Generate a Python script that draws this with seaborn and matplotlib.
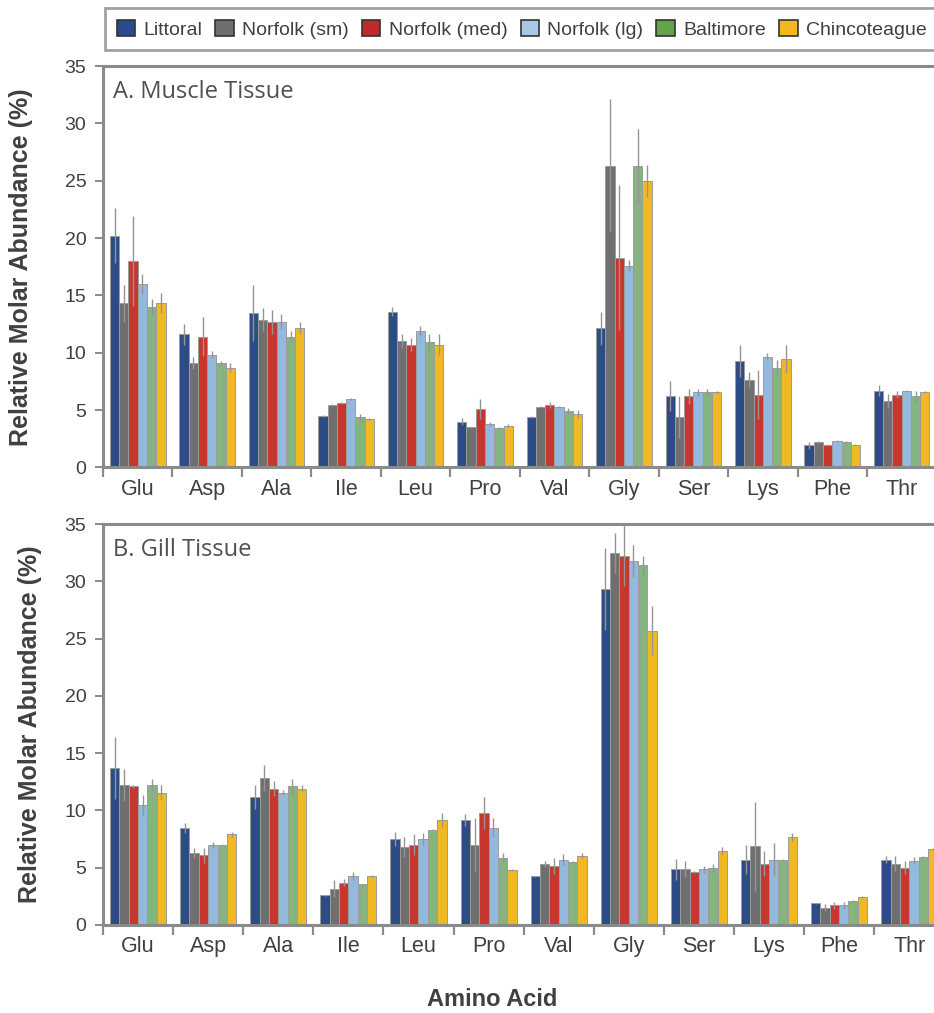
import numpy as np
import pandas as pd
import matplotlib
matplotlib.use("Agg")
import matplotlib.pyplot as plt
from matplotlib.patches import Patch
from matplotlib.ticker import FixedLocator
import seaborn as sns

amino_acids = ["Glu", "Asp", "Ala", "Ile", "Leu", "Pro", "Val", "Gly", "Ser", "Lys", "Phe", "Thr"]
sites = ["Littoral", "Norfolk (sm)", "Norfolk (med)", "Norfolk (lg)", "Baltimore", "Chincoteague"]

# Mean relative molar abundance (%), one row per site, columns follow amino_acids
muscle_mean = [
    [20.2, 11.6, 13.45, 4.5, 13.6, 4.0, 4.4, 12.15, 6.2, 9.3, 1.95, 6.7],
    [14.3, 9.1, 12.9, 5.45, 11.0, 3.5, 5.25, 26.3, 4.4, 7.65, 2.2, 5.8],
    [18.0, 11.4, 12.7, 5.6, 10.7, 5.1, 5.45, 18.3, 6.2, 6.35, 1.95, 6.35],
    [16.0, 9.85, 12.7, 6.0, 11.9, 3.8, 5.3, 17.6, 6.55, 9.65, 2.35, 6.7],
    [14.0, 9.1, 11.4, 4.4, 10.9, 3.45, 4.9, 26.3, 6.55, 8.7, 2.2, 6.2],
    [14.35, 8.7, 12.2, 4.2, 10.7, 3.65, 4.7, 25.0, 6.55, 9.45, 2.0, 6.6],
]
muscle_err = [
    [2.4, 0.9, 2.45, 0.1, 0.35, 0.3, 0.05, 1.45, 1.3, 1.4, 0.3, 0.5],
    [1.6, 0.5, 1.0, 0.1, 0.6, 0.05, 0.1, 5.8, 1.8, 0.65, 0.1, 0.65],
    [3.9, 1.7, 1.05, 0.1, 0.55, 0.9, 0.3, 6.35, 0.65, 2.15, 0.1, 0.3],
    [0.9, 0.3, 0.65, 0.1, 0.45, 0.2, 0.1, 0.5, 0.3, 0.3, 0.05, 0.05],
    [0.7, 0.2, 0.5, 0.3, 0.7, 0.05, 0.3, 3.2, 0.3, 0.65, 0.15, 0.5],
    [0.85, 0.4, 0.45, 0.1, 0.9, 0.1, 0.35, 1.4, 0.1, 1.25, 0.05, 0.05],
]
gill_mean = [
    [13.7, 8.45, 11.2, 2.6, 7.5, 9.15, 4.25, 29.35, 4.85, 5.7, 1.9, 5.7],
    [12.25, 6.3, 12.85, 3.15, 6.8, 7.0, 5.35, 32.45, 4.85, 6.85, 1.5, 5.35],
    [12.1, 6.1, 11.9, 3.7, 7.0, 9.75, 5.15, 32.25, 4.6, 5.35, 1.7, 5.0],
    [10.45, 7.0, 11.55, 4.25, 7.5, 8.5, 5.7, 31.75, 4.85, 5.7, 1.7, 5.6],
    [12.25, 7.0, 12.1, 3.55, 8.3, 5.85, 5.5, 31.4, 5.0, 5.7, 2.1, 5.95],
    [11.55, 7.9, 11.9, 4.25, 9.15, 4.8, 6.05, 25.7, 6.45, 7.7, 2.45, 6.65],
]
gill_err = [
    [2.7, 0.45, 1.05, 0.05, 0.65, 0.5, 0.05, 3.6, 0.9, 1.25, 0.05, 0.3],
    [1.4, 0.45, 1.15, 0.75, 0.85, 2.35, 0.25, 1.75, 0.7, 3.9, 0.3, 0.65],
    [0.1, 0.65, 0.65, 0.3, 0.9, 1.4, 0.7, 2.7, 0.1, 1.1, 0.3, 0.55],
    [0.9, 0.25, 0.2, 0.35, 0.5, 0.8, 0.5, 1.4, 0.3, 1.45, 0.3, 0.3],
    [0.5, 0.05, 0.65, 0.05, 0.05, 0.4, 0.05, 0.85, 0.35, 0.05, 0.05, 0.1],
    [0.65, 0.2, 0.3, 0.1, 0.6, 0.05, 0.2, 2.15, 0.35, 0.35, 0.1, 0.1],
]

bar_colors = ["#2D4B85", "#6F6F6F", "#C8372D", "#93B9DC", "#86B480", "#F1B823"]
legend_colors = ["#2A4A8C", "#6F6F6F", "#BF2A2C", "#A8C6E6", "#64A347", "#F4B71F"]

sns.set_theme(style="white")
plt.rcParams["font.family"] = ["Liberation Sans", "DejaVu Sans"]

SPINE = "#8A8A8A"
TEXT = "#404040"

fig = plt.figure(figsize=(9.34, 10.13), dpi=100)
ax_a = fig.add_axes([0.1103, 0.5385, 0.8923, 0.3963])
ax_b = fig.add_axes([0.1103, 0.0869, 0.9007, 0.3958])


def long_frame(mean):
    rows = []
    for s, site in enumerate(sites):
        for a, acid in enumerate(amino_acids):
            rows.append({"acid": acid, "site": site, "value": mean[s][a]})
    return pd.DataFrame(rows)


def draw_panel(ax, mean, err, title, ylabel_x):
    df = long_frame(mean)
    sns.barplot(data=df, x="acid", y="value", hue="site", order=amino_acids,
                hue_order=sites, palette=bar_colors, saturation=1, errorbar=None,
                width=0.8, edgecolor="#9C9C9C", linewidth=0.7, legend=False, ax=ax)
    bar_groups = [c for c in ax.containers]
    for s, container in enumerate(bar_groups):
        xs = [b.get_x() + b.get_width() / 2 for b in container.patches]
        ys = [b.get_height() for b in container.patches]
        ax.errorbar(xs, ys, yerr=err[s], fmt="none", ecolor="#959595",
                    elinewidth=1.0, capsize=0, zorder=5)
    ax.set_xlim(-0.5, len(amino_acids) - 0.5)
    ax.set_ylim(0, 35)
    ax.set_yticks(np.arange(0, 36, 5))
    ax.xaxis.set_minor_locator(FixedLocator(np.arange(-0.5, len(amino_acids), 1.0)))
    ax.tick_params(axis="x", which="major", length=0, labelsize=15.5, labelcolor=TEXT, pad=8)
    ax.tick_params(axis="x", which="minor", length=7, width=1.6, color=SPINE, direction="out", bottom=True)
    ax.tick_params(axis="y", which="major", length=6, width=1.4, color=SPINE, direction="out",
                   left=True, labelsize=14, labelcolor=TEXT, pad=6)
    for side in ["left", "bottom", "top"]:
        ax.spines[side].set_color(SPINE)
        ax.spines[side].set_linewidth(2.2)
    ax.spines["right"].set_visible(False)
    ax.set_xlabel("")
    ax.set_ylabel("Relative Molar Abundance (%)", fontsize=18, fontweight="bold", color=TEXT)
    ax.yaxis.set_label_coords(ylabel_x, 0.5)
    ax.text(0.012, 0.965, title, transform=ax.transAxes, ha="left", va="top",
            fontsize=17, color="#505050", family=["Open Sans", "DejaVu Sans"])


draw_panel(ax_a, muscle_mean, muscle_err, "A. Muscle Tissue", -0.084)
draw_panel(ax_b, gill_mean, gill_err, "B. Gill Tissue", -0.0725)

fig.text(492 / 934, 1 - 999 / 1013, "Amino Acid", ha="center", va="center",
         fontsize=17, fontweight="bold", color=TEXT)

handles = [Patch(facecolor=c, edgecolor="#333333", linewidth=1.2) for c in legend_colors]
leg = fig.legend(handles, sites, loc="upper left", bbox_to_anchor=(105 / 934, 1 - 8 / 1013),
                 borderaxespad=0, ncol=6, frameon=True, fancybox=False,
                 handlelength=0.95, handleheight=0.95, handletextpad=0.42,
                 columnspacing=0.68, borderpad=0.6,
                 prop={"family": ["Liberation Sans", "DejaVu Sans"], "size": 14})
leg.get_frame().set_edgecolor("#8A8A8A")
leg.get_frame().set_linewidth(2.0)
for t in leg.get_texts():
    t.set_color(TEXT)

fig.savefig("out.png", dpi=100)
